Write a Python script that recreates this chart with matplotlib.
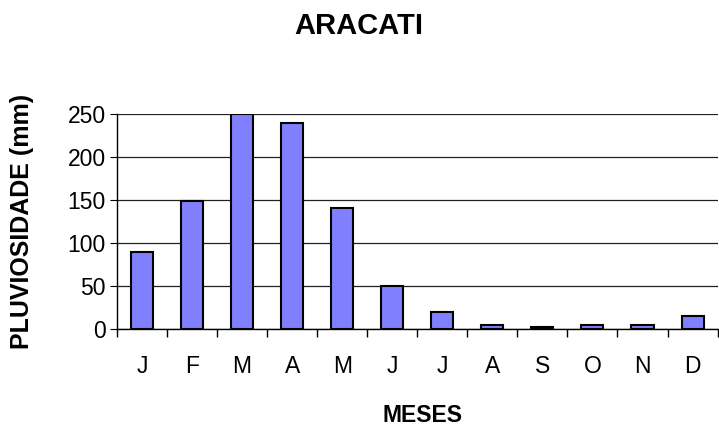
import matplotlib
matplotlib.use('Agg')
from matplotlib import pyplot as plt
import numpy as np

plt.rcParams['font.family'] = ['Liberation Sans', 'DejaVu Sans']

meses = ['J', 'F', 'M', 'A', 'M', 'J', 'J', 'A', 'S', 'O', 'N', 'D']
chuva = [90, 149, 250, 240, 141, 50, 20, 5, 2, 5, 5, 15]
y_ticks = [0, 50, 100, 150, 200, 250]

fig = plt.figure(figsize=(7.19, 4.26), dpi=100)
ax = fig.add_axes([0.1627, 0.2277, 0.8353, 0.5047])

x = np.arange(len(meses))
ax.bar(x, chuva, width=0.44, color='#8080FF', edgecolor='black', linewidth=1.5, zorder=3)

ax.set_xlim(-0.5, len(meses) - 0.5)
ax.set_ylim(0, 250)
ax.set_yticks(y_ticks)
ax.yaxis.grid(True, color='#222222', linewidth=0.9, zorder=0)
ax.tick_params(axis='y', labelsize=16.5, length=5, direction='out', pad=3)

ax.set_xticks(x)
ax.set_xticklabels(meses)
ax.set_xticks(np.arange(-0.5, len(meses)), minor=True)
ax.tick_params(axis='x', which='major', length=0, labelsize=16.5, pad=19)
ax.tick_params(axis='x', which='minor', length=6, direction='out', width=1)

for s in ['top', 'right']:
    ax.spines[s].set_visible(False)
ax.spines['left'].set_linewidth(1)
ax.spines['bottom'].set_linewidth(1)

fig.text(422 / 719, 1 - 415 / 426, 'MESES', fontsize=16.5, fontweight='bold',
         ha='center', va='center')
fig.text(22 / 719, 1 - 221 / 426, 'PLUVIOSIDADE (mm)', fontsize=18, fontweight='bold',
         rotation=90, ha='center', va='center')
fig.text(359 / 719, 1 - 26 / 426, 'ARACATI', fontsize=21, fontweight='bold',
         ha='center', va='center')

fig.savefig('out.png', dpi=100)
